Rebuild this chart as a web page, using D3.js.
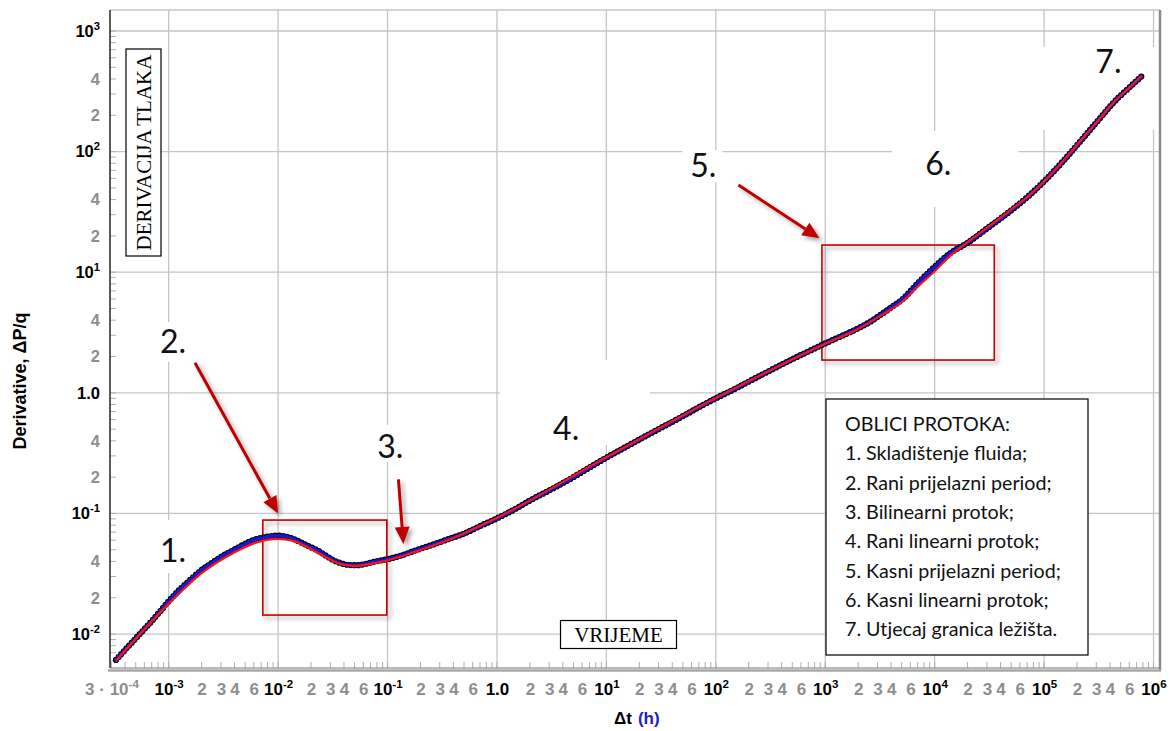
<!DOCTYPE html>
<html>
<head>
<meta charset="utf-8">
<script src="https://cdn.jsdelivr.net/npm/d3@7"></script>
<style>
  body { margin: 0; background: #fff; }
  svg { display: block; }
</style>
</head>
<body>
<div id="container"></div>
<script>
// measured points (delta t in h, derivative dP/q)
const tData = [3.3e-4, 4e-4, 5e-4, 6e-4, 7e-4, 8.5e-4, 1e-3, 1.3e-3, 1.6e-3, 2e-3, 2.5e-3, 3e-3, 3.9e-3, 4.8e-3, 5.9e-3, 7.5e-3,
  0.01, 0.0125, 0.0159, 0.019, 0.0226, 0.027, 0.032, 0.038, 0.0455, 0.052, 0.06, 0.069, 0.08, 0.1, 0.13, 0.185, 0.25, 0.373,
  0.5, 0.7, 1, 1.5, 2, 3, 5, 7, 10, 15, 20, 30, 50, 70, 100, 150, 200, 300, 500, 700, 1000, 1400, 2000, 2600, 3185, 4000,
  5200, 7000, 1e4, 1.39e4, 1.97e4, 3e4, 4.5e4, 5.25e4, 6.97e4, 9.9e4, 1.507e5, 2.165e5, 3.267e5, 4.325e5, 6.14e5, 7.85e5];
const dData = [0.0061, 0.0074, 0.0092, 0.011, 0.0128, 0.0157, 0.0187, 0.024, 0.0285, 0.034, 0.039, 0.0435, 0.0497, 0.055, 0.060, 0.0635,
  0.0655, 0.0635, 0.058, 0.0535, 0.0498, 0.045, 0.041, 0.0385, 0.0373, 0.0372, 0.0378, 0.039, 0.0402, 0.0417, 0.0445, 0.0498, 0.0545, 0.062,
  0.068, 0.0785, 0.091, 0.11, 0.128, 0.155, 0.2, 0.24, 0.29, 0.355, 0.41, 0.5, 0.64, 0.76, 0.9, 1.08, 1.24, 1.5, 1.9, 2.2, 2.57, 2.95, 3.43, 3.9, 4.42, 5.1,
  6.08, 8.1, 11.1, 14.4, 17.4, 23.0, 30.2, 33.7, 41.7, 56.2, 84.1, 123, 190.5, 256, 346, 424];

// model (red line)
const tModel = [3.3e-4, 1e-3, 2e-3, 3.9e-3, 6e-3, 0.01, 0.0135, 0.019, 0.027, 0.038, 0.05, 0.07, 0.1, 0.185, 0.373, 1, 10, 100,
  1000, 2000, 3185, 5200, 7000, 1e4, 1.4e4, 1.97e4, 3e4, 5e4, 7e4, 1e5, 1.5e5, 2.17e5, 3.27e5, 4.33e5, 6.14e5, 7.85e5];
const dModel = [0.006, 0.0178, 0.032, 0.047, 0.0565, 0.0615, 0.0595, 0.052, 0.0435, 0.0378, 0.0368, 0.0382, 0.0408, 0.0485, 0.061, 0.092, 0.292, 0.905,
  2.55, 3.38, 4.35, 5.8, 7.6, 10.2, 13.8, 17.6, 23.3, 33, 42, 56.5, 84, 124, 190, 256, 346, 424];

// tick labels
const xMajor = [1e-3, 1e-2, 1e-1, 1, 1e1, 1e2, 1e3, 1e4, 1e5, 1e6];
const xMajorLabels = [["10", "-3"], ["10", "-2"], ["10", "-1"], ["1.0", ""], ["10", "1"], ["10", "2"], ["10", "3"], ["10", "4"], ["10", "5"], ["10", "6"]];
const xMinorMult = [2, 3, 4, 6];
const xFirst = [3e-4, ["3 \u00b7 10", "-4"]];
const yMajor = [1e-2, 1e-1, 1, 1e1, 1e2, 1e3];
const yMajorLabels = [["10", "-2"], ["10", "-1"], ["1.0", ""], ["10", "1"], ["10", "2"], ["10", "3"]];
const yMinorMult = [2, 4];

// flow regimes
const legendTitle = "OBLICI PROTOKA:";
const legendItems = ["1. Skladištenje fluida;", "2. Rani prijelazni period;", "3. Bilinearni protok;", "4. Rani linearni protok;",
  "5. Kasni prijelazni period;", "6. Kasni linearni protok;", "7. Utjecaj granica ležišta."];
const regimeLabels = ["1.", "2.", "3.", "4.", "5.", "6.", "7."];
const regimeT = [8.34e-4, 8.34e-4, 0.0804, 3.26, 58.3, 8200, 2.94e5];
const regimeD = [0.0395, 2.14, 0.288, 0.407, 61.5, 64, 449];
// white label patches, px offsets from label anchor [dx, dy, w, h]
const patches = [[-42, -42, 89, 53], [-10, -31, 50, 40], [-12, -33, 50, 37], [-53, -80, 150, 85], [-8, -27, 40, 32], [-33, -44, 126, 76], [-55, -26, 115, 83]];

// arrows [t1, d1, t2, d2] and boxes [t1, dTop, t2, dBottom]
const arrows = [[1.74e-3, 1.777, 0.01, 0.1], [0.1258, 0.1918, 0.1397, 0.0558], [161, 52.8, 887, 19.1]];
const boxes = [[7.25e-3, 0.0881, 0.0985, 0.01437], [933, 16.8, 35080, 1.87]];

const width = 1171, height = 731;
const pLeft = 110, pRight = 1160, pTop = 10, pBottom = 668;

const x = d3.scaleLog().domain([2.91e-4, 1.146e6]).range([pLeft, pRight]);
const y = d3.scaleLog().domain([0.00523, 1493]).range([pBottom, pTop]);

const svg = d3.select("#container").append("svg")
  .attr("width", width).attr("height", height);

const defs = svg.append("defs");
const sh = defs.append("filter").attr("id", "shadow").attr("x", "-20%").attr("y", "-20%").attr("width", "150%").attr("height", "150%");
sh.append("feDropShadow").attr("dx", 3).attr("dy", 3).attr("stdDeviation", 2)
  .attr("flood-color", "#000").attr("flood-opacity", 0.35);

svg.append("rect").attr("width", width).attr("height", height).attr("fill", "#fff");

// gridlines at decades
const grid = svg.append("g").attr("stroke", "#c6c6c6").attr("stroke-width", 1.3);
grid.selectAll(".gx").data(xMajor).enter().append("line")
  .attr("x1", d => x(d)).attr("x2", d => x(d)).attr("y1", pTop).attr("y2", pBottom);
grid.selectAll(".gy").data(yMajor).enter().append("line")
  .attr("x1", pLeft).attr("x2", pRight).attr("y1", d => y(d)).attr("y2", d => y(d));

// minor ticks
const xTicksAll = [];
for (let e = -4; e <= 6; e++) for (let m = 1; m <= 9; m++) {
  const v = m * Math.pow(10, e);
  if (v >= x.domain()[0] && v <= x.domain()[1]) xTicksAll.push(v);
}
const yTicksAll = [];
for (let e = -3; e <= 3; e++) for (let m = 1; m <= 9; m++) {
  const v = m * Math.pow(10, e);
  if (v >= y.domain()[0] && v <= y.domain()[1]) yTicksAll.push(v);
}
svg.append("g").attr("stroke", "#b0b0b0").attr("stroke-width", 1)
  .selectAll("line").data(xTicksAll).enter().append("line")
  .attr("x1", d => x(d)).attr("x2", d => x(d)).attr("y1", pBottom - 6).attr("y2", pBottom);
svg.append("g").attr("stroke", "#b0b0b0").attr("stroke-width", 1)
  .selectAll("line").data(yTicksAll).enter().append("line")
  .attr("x1", pLeft).attr("x2", pLeft + 6).attr("y1", d => y(d)).attr("y2", d => y(d));

// frame
svg.append("line").attr("x1", pLeft).attr("x2", pRight).attr("y1", pTop).attr("y2", pTop).attr("stroke", "#c6c6c6").attr("stroke-width", 1.5);
svg.append("line").attr("x1", pRight).attr("x2", pRight).attr("y1", pTop).attr("y2", pBottom + 3).attr("stroke", "#8a8a8a").attr("stroke-width", 2.5);
svg.append("line").attr("x1", pLeft).attr("x2", pLeft).attr("y1", pTop).attr("y2", pBottom).attr("stroke", "#333").attr("stroke-width", 1.6);
svg.append("line").attr("x1", pLeft).attr("x2", pRight).attr("y1", pBottom).attr("y2", pBottom).attr("stroke", "#777").attr("stroke-width", 1.2);
svg.append("line").attr("x1", pLeft - 2).attr("x2", pRight + 1).attr("y1", pBottom + 2.5).attr("y2", pBottom + 2.5).attr("stroke", "#a8a8a8").attr("stroke-width", 2.5);

// white patches behind regime labels
svg.append("g").selectAll("rect").data(regimeLabels).enter().append("rect")
  .attr("x", (d, i) => x(regimeT[i]) + patches[i][0])
  .attr("y", (d, i) => y(regimeD[i]) + patches[i][1])
  .attr("width", (d, i) => patches[i][2])
  .attr("height", (d, i) => patches[i][3])
  .attr("fill", "#fff");

// red boxes
svg.append("g").selectAll("rect").data(boxes).enter().append("rect")
  .attr("x", d => x(d[0])).attr("y", d => y(d[1]))
  .attr("width", d => x(d[2]) - x(d[0])).attr("height", d => y(d[3]) - y(d[1]))
  .attr("fill", "none").attr("stroke", "#c40000").attr("stroke-width", 1.6)
  .attr("filter", "url(#shadow)");

// data + model
const dataPts = tData.map((t, i) => [t, dData[i]]);
const modelPts = tModel.map((t, i) => [t, dModel[i]]);
const line = d3.line().x(d => x(d[0])).y(d => y(d[1])).curve(d3.curveMonotoneX);

svg.append("path").datum(dataPts).attr("d", line).attr("fill", "none")
  .attr("stroke", "#000").attr("stroke-width", 6.2).attr("stroke-linecap", "round").attr("stroke-dasharray", "0 3.9");
svg.append("path").datum(dataPts).attr("d", line).attr("fill", "none")
  .attr("stroke", "#1818d0").attr("stroke-width", 4.4).attr("stroke-linecap", "round").attr("stroke-dasharray", "0 3.9");
svg.append("path").datum(modelPts).attr("d", line).attr("fill", "none")
  .attr("stroke", "#ff1414").attr("stroke-width", 2.2);

// arrows
const arrowG = svg.append("g").attr("filter", "url(#shadow)");
arrows.forEach(a => {
  const x1 = x(a[0]), y1 = y(a[1]), x2 = x(a[2]), y2 = y(a[3]);
  const ang = Math.atan2(y2 - y1, x2 - x1);
  const hl = 17, hw = 7.5;
  const bx = x2 - hl * Math.cos(ang), by = y2 - hl * Math.sin(ang);
  arrowG.append("line").attr("x1", x1).attr("y1", y1).attr("x2", bx).attr("y2", by)
    .attr("stroke", "#c00000").attr("stroke-width", 3);
  arrowG.append("path")
    .attr("d", `M${x2},${y2}L${bx - hw * Math.sin(ang)},${by + hw * Math.cos(ang)}L${bx + hw * Math.sin(ang)},${by - hw * Math.cos(ang)}Z`)
    .attr("fill", "#c00000");
});

// regime labels
svg.append("g").selectAll("text").data(regimeLabels).enter().append("text")
  .attr("x", (d, i) => x(regimeT[i])).attr("y", (d, i) => y(regimeD[i]))
  .attr("font-family", "Lato, 'Open Sans', sans-serif").attr("font-size", 32).attr("fill", "#111")
  .text(d => d);

// axes
const xTickVals = [xFirst[0]].concat(xMajor);
const xTickLabels = [xFirst[1]].concat(xMajorLabels);
const xTickGray = [true].concat(xMajor.map(() => false));
xMajor.slice(0, -1).forEach(dec => xMinorMult.forEach(m => {
  xTickVals.push(dec * m); xTickLabels.push([String(m), ""]); xTickGray.push(true);
}));
const yTickVals = yMajor.slice();
const yTickLabels = yMajorLabels.slice();
const yTickGray = yMajor.map(() => false);
yMajor.slice(0, -1).forEach(dec => yMinorMult.forEach(m => {
  yTickVals.push(dec * m); yTickLabels.push([String(m), ""]); yTickGray.push(true);
}));

const supLabel = (labels, gray, fs) => function (d, i) {
  const t = d3.select(this);
  const l = labels[i];
  t.text(null).attr("fill", gray[i] ? "#8e8e8e" : "#000");
  t.append("tspan").text(l[0]);
  if (l[1]) t.append("tspan").attr("dy", -fs * 0.42).attr("font-size", fs * 0.68).text(l[1]);
};

const xAxisG = svg.append("g").attr("transform", `translate(0,${pBottom})`)
  .call(d3.axisBottom(x).tickValues(xTickVals).tickSize(0).tickPadding(15).tickFormat(""));
xAxisG.select(".domain").remove();
xAxisG.selectAll("text").attr("font-family", "'Liberation Sans', Arial, sans-serif").attr("font-size", 17).attr("font-weight", "bold")
  .each(supLabel(xTickLabels, xTickGray, 17));

const yAxisG = svg.append("g").attr("transform", `translate(${pLeft},0)`)
  .call(d3.axisLeft(y).tickValues(yTickVals).tickSize(0).tickPadding(10).tickFormat(""));
yAxisG.select(".domain").remove();
yAxisG.selectAll("text").attr("font-family", "'Liberation Sans', Arial, sans-serif").attr("font-size", 16.5).attr("font-weight", "bold")
  .each(supLabel(yTickLabels, yTickGray, 16.5));

// axis titles
svg.append("text").attr("transform", "translate(26,381) rotate(-90)").attr("text-anchor", "middle")
  .attr("font-family", "'Liberation Sans', Arial, sans-serif").attr("font-size", 18).attr("font-weight", "bold")
  .text("Derivative, \u0394P/q");
const xt = svg.append("text").attr("x", 614).attr("y", 724)
  .attr("font-family", "'Liberation Sans', Arial, sans-serif").attr("font-size", 17).attr("font-weight", "bold");
xt.append("tspan").attr("fill", "#000").text("\u0394t");
xt.append("tspan").attr("fill", "#2020c8").attr("dx", 6).text("(h)");

// text boxes
svg.append("rect").attr("x", 126).attr("y", 49).attr("width", 35).attr("height", 207)
  .attr("fill", "#fff").attr("stroke", "#000").attr("stroke-width", 1.2);
svg.append("text").attr("transform", "translate(151,152.5) rotate(-90)").attr("text-anchor", "middle")
  .attr("font-family", "'Liberation Serif', 'Times New Roman', serif").attr("font-size", 21).attr("fill", "#000")
  .text("DERIVACIJA TLAKA");
svg.append("rect").attr("x", 560.5).attr("y", 620.5).attr("width", 116).attr("height", 28)
  .attr("fill", "#fff").attr("stroke", "#000").attr("stroke-width", 1.2);
svg.append("text").attr("x", 618.5).attr("y", 642).attr("text-anchor", "middle")
  .attr("font-family", "'Liberation Serif', 'Times New Roman', serif").attr("font-size", 21).attr("fill", "#000")
  .text("VRIJEME");

// legend
const lg = svg.append("g").attr("transform", "translate(826,399)");
lg.append("rect").attr("width", 262).attr("height", 256).attr("fill", "#fff").attr("stroke", "#000").attr("stroke-width", 1.2);
lg.selectAll("text").data([legendTitle].concat(legendItems)).enter().append("text")
  .attr("x", 19).attr("y", (d, i) => 32 + i * 29.3)
  .attr("font-family", "Lato, 'Open Sans', sans-serif").attr("font-size", 19.7).attr("fill", "#111")
  .text(d => d);
</script>
</body>
</html>
